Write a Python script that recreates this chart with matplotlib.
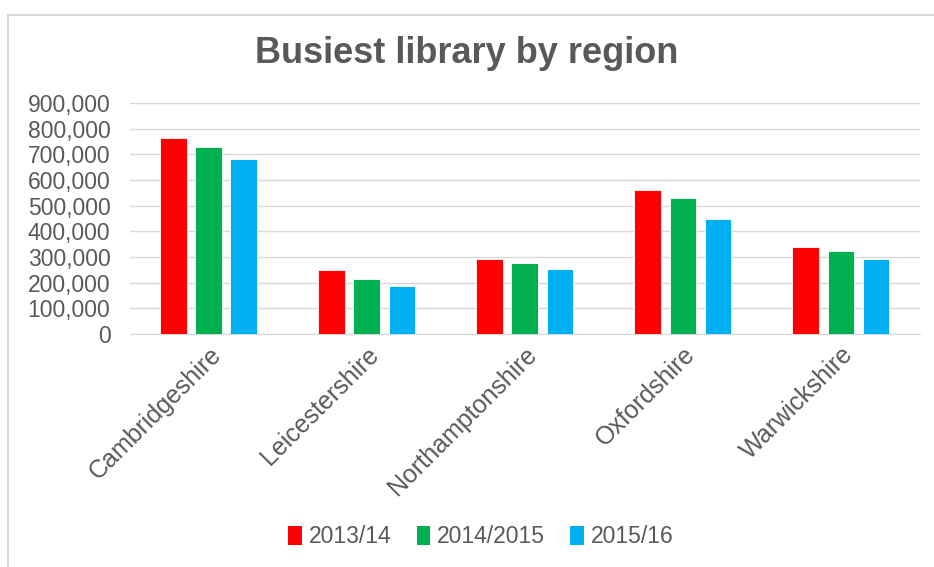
import matplotlib
matplotlib.use('Agg')
import numpy as np
import matplotlib.pyplot as plt
from matplotlib.patches import Patch
from matplotlib.ticker import FuncFormatter

plt.rcParams['font.family'] = ['Liberation Sans', 'DejaVu Sans']

regions = ['Cambridgeshire', 'Leicestershire', 'Northamptonshire', 'Oxfordshire', 'Warwickshire']
y2013 = [763000, 250000, 294000, 560000, 338000]
y2014 = [729000, 216000, 275000, 529000, 324000]
y2015 = [681000, 187000, 255000, 450000, 294000]
series = ['2013/14', '2014/2015', '2015/16']
colors = ['#ff0000', '#00b050', '#00b0f0']
grey = '#595959'

fig = plt.figure(figsize=(9.34, 5.67), dpi=100)
ax = fig.add_axes([0.139, 0.411, 0.846, 0.407])

x = np.arange(len(regions))
w = 0.17
step = 0.222
for i, (vals, c) in enumerate(zip([y2013, y2014, y2015], colors)):
    ax.bar(x + (i - 1) * step, vals, w, color=c, edgecolor='white', linewidth=0.6, zorder=3)

ax.set_xlim(-0.5, len(regions) - 0.5)
ax.set_ylim(0, 900000)
ax.set_yticks(np.arange(0, 900001, 100000))
ax.yaxis.set_major_formatter(FuncFormatter(lambda v, p: '{:,.0f}'.format(v)))
ax.grid(axis='y', color='#d9d9d9', linewidth=1, zorder=0)
for s in ['top', 'right', 'left']:
    ax.spines[s].set_visible(False)
ax.spines['bottom'].set_color('#d9d9d9')
ax.tick_params(axis='both', length=0, colors=grey)
ax.tick_params(axis='y', pad=14, labelsize=16.5)
ax.set_xticks(x)
ax.set_xticklabels(regions, rotation=45, ha='right', rotation_mode='anchor')
ax.tick_params(axis='x', pad=6, labelsize=18)

fig.text(0.5, 0.906, 'Busiest library by region', ha='center', va='center',
         fontsize=26, fontweight='bold', color=grey)

handles = [Patch(facecolor=c, label=s) for c, s in zip(colors, series)]
fig.legend(handles=handles, loc='center', bbox_to_anchor=(0.515, 0.053), ncol=3,
           frameon=False, fontsize=16.5, handlelength=0.6, handleheight=0.9,
           handletextpad=0.3, columnspacing=1.1, labelcolor=grey)

# chart frame (left and top edges visible)
fig.add_artist(plt.Line2D([8 / 934, 8 / 934], [0, 1 - 15 / 567], color='#d9d9d9', lw=1.5))
fig.add_artist(plt.Line2D([8 / 934, 1], [1 - 15 / 567, 1 - 15 / 567], color='#d9d9d9', lw=1.5))

fig.savefig('out.png', dpi=100)
